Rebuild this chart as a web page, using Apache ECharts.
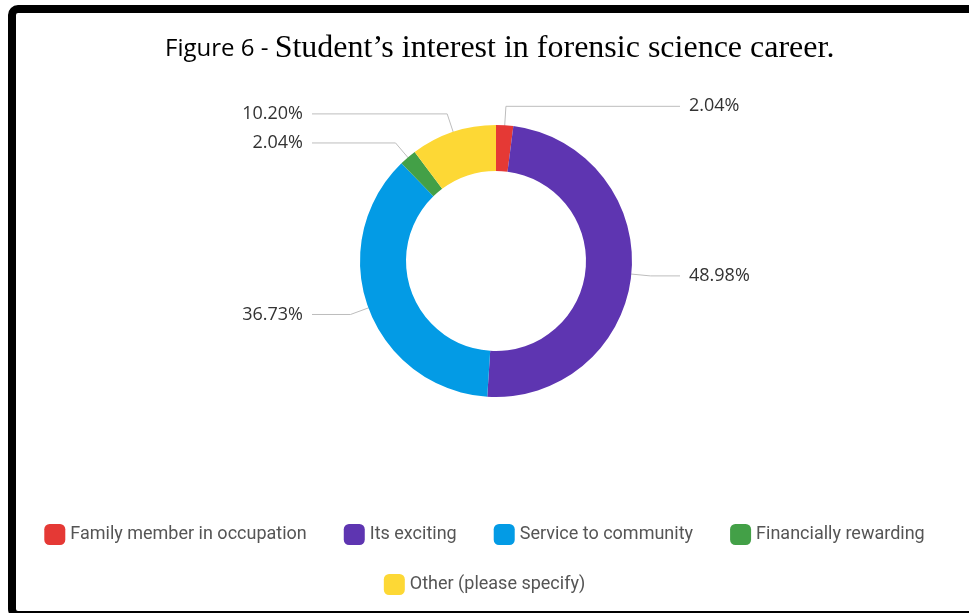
<!DOCTYPE html>
<html>
<head>
<meta charset="utf-8">
<title>Student’s interest in forensic science career</title>
<script src="https://cdn.jsdelivr.net/npm/echarts@6/dist/echarts.min.js"></script>
<style>
  html, body { margin: 0; padding: 0; background: #ffffff; }
  #chart { width: 969px; height: 613px; }
</style>
</head>
<body>
<div id="chart"></div>
<script>
// Survey answers and their shares (percent of respondents)
const categories = [
  'Family member in occupation',
  'Its exciting',
  'Service to community',
  'Financially rewarding',
  'Other (please specify)'
];
const shares = [2.04, 48.98, 36.73, 2.04, 10.20];
const sliceColors = ['#E53935', '#5E35B1', '#039BE5', '#43A047', '#FDD835'];

// Donut geometry (px)
const CENTER = [496, 261];
const RADIUS = [90, 136];
const LINE_START_R = 113;   // leader lines start in the middle of the ring
const KINK_R = 155;         // where the leader bends to horizontal
const LINE_END_DX = 184;    // horizontal reach of leader ends from the centre
const LABEL_GAP = 9;

const chart = echarts.init(document.getElementById('chart'), null, { renderer: 'canvas' });

const legendText = { fontFamily: 'Roboto', fontSize: 18, color: '#555555' };

chart.setOption({
  animation: false,
  color: sliceColors,
  title: {
    text: '{a|Figure 6 - }{b|Student’s interest in forensic science career.}',
    left: 160,
    top: 24,
    textStyle: {
      fontWeight: 'normal',
      rich: {
        a: { fontFamily: 'Open Sans', fontSize: 24, fontWeight: 'normal', color: '#000000', verticalAlign: 'bottom', lineHeight: 36, padding: [0, 0, 4, 0] },
        b: { fontFamily: 'Liberation Serif', fontSize: 32, fontWeight: 'normal', color: '#000000', verticalAlign: 'bottom', lineHeight: 36 }
      }
    }
  },
  legend: [
    {
      data: categories.slice(0, 4),
      left: 'center',
      top: 519,
      icon: 'roundRect',
      itemWidth: 21,
      itemHeight: 21,
      itemGap: 37,
      selectedMode: false,
      textStyle: legendText
    },
    {
      data: categories.slice(4),
      left: 'center',
      top: 569,
      icon: 'roundRect',
      itemWidth: 21,
      itemHeight: 21,
      itemGap: 37,
      selectedMode: false,
      textStyle: legendText
    }
  ],
  graphic: [
    {
      type: 'rect',
      silent: true,
      shape: { x: 12, y: 9, width: 1000, height: 606, r: 6 },
      style: { fill: 'none', stroke: '#000000', lineWidth: 8 }
    }
  ],
  series: [
    {
      type: 'pie',
      center: CENTER,
      radius: RADIUS,
      startAngle: 90,
      clockwise: true,
      silent: true,
      itemStyle: { borderWidth: 0 },
      label: {
        show: true,
        position: 'outside',
        formatter: (p) => p.value.toFixed(2) + '%',
        fontFamily: 'Open Sans',
        fontSize: 18,
        color: '#333333'
      },
      labelLine: {
        show: true,
        length: 20,
        length2: 20,
        lineStyle: { color: '#bdbdbd', width: 1 }
      },
      labelLayout: function (params) {
        const pts = params.labelLinePoints;
        if (!pts) return {};
        const ang = Math.atan2(pts[0][1] - CENTER[1], pts[0][0] - CENTER[0]);
        const c = Math.cos(ang);
        const s = Math.sin(ang);
        const isLeft = c < 0;
        const start = [CENTER[0] + c * LINE_START_R, CENTER[1] + s * LINE_START_R];
        const kink = [CENTER[0] + c * KINK_R, CENTER[1] + s * KINK_R];
        const endX = CENTER[0] + (isLeft ? -LINE_END_DX : LINE_END_DX);
        return {
          x: endX + (isLeft ? -LABEL_GAP : LABEL_GAP),
          y: kink[1],
          align: isLeft ? 'right' : 'left',
          verticalAlign: 'middle',
          labelLinePoints: [start, kink, [endX, kink[1]]]
        };
      },
      data: categories.map((name, i) => ({ name: name, value: shares[i] }))
    }
  ]
});
</script>
</body>
</html>
